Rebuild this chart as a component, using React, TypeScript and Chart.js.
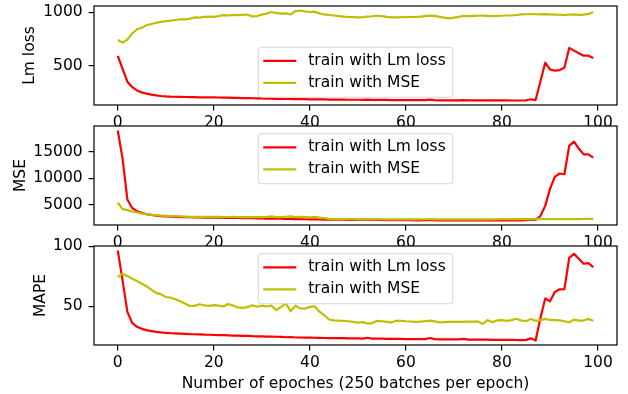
import { useEffect, useRef } from 'react';
import { Chart, registerables } from 'chart.js';

Chart.register(...registerables);

const EPOCHS = Array.from({ length: 100 }, (_, i) => i);
const X_TICKS = [0, 20, 40, 60, 80, 100];
const X_TITLE = 'Number of epoches (250 batches per epoch)';
const LEGEND_LABELS = ['train with Lm loss', 'train with MSE'];
const COLORS = ['#ff0000', '#bfbf00'];

// Panel 1: Lm loss
const LM_TICKS = [500, 1000];
const LM_LOSS_LM = [
  591, 470, 350, 300, 268, 250, 238, 229, 222, 216,
  212, 210, 209, 208, 207, 206, 205, 204, 204, 203,
  203, 202, 201, 200, 199, 198, 197, 196, 195, 194,
  193, 192, 191, 190, 189, 188, 189, 187, 187, 186,
  185, 185, 184, 184, 183, 183, 182, 182, 181, 181,
  181, 180, 183, 180, 179, 179, 179, 178, 178, 178,
  177, 177, 177, 177, 177, 182, 177, 176, 176, 176,
  176, 176, 177, 176, 175, 175, 175, 176, 175, 175,
  175, 175, 174, 174, 174, 176, 186, 178, 352, 528,
  466, 453, 459, 481, 666, 641, 616, 594, 594, 572,
];
const LM_LOSS_MSE = [
  741, 716, 745, 800, 842, 856, 880, 891, 902, 911,
  918, 922, 928, 935, 933, 940, 953, 950, 958, 960,
  958, 964, 973, 970, 976, 974, 977, 978, 962, 965,
  978, 988, 1003, 994, 988, 990, 980, 1012, 1017, 1008,
  1003, 1006, 990, 980, 975, 970, 965, 960, 957, 955,
  953, 955, 960, 963, 968, 965, 958, 953, 952, 955,
  955, 956, 957, 960, 965, 969, 966, 958, 950, 944,
  950, 958, 966, 964, 966, 968, 969, 966, 965, 966,
  968, 970, 972, 975, 980, 982, 984, 982, 980, 983,
  981, 979, 977, 975, 978, 980, 976, 978, 985, 1000,
];

// Panel 2: MSE
const MSE_TICKS = [5000, 10000, 15000];
const MSE_LM = [
  19000, 13700, 6000, 4400, 3800, 3480, 3230, 3100, 2980, 2880,
  2800, 2760, 2730, 2700, 2680, 2660, 2640, 2630, 2610, 2600,
  2590, 2570, 2560, 2550, 2530, 2520, 2500, 2490, 2470, 2450,
  2430, 2420, 2400, 2390, 2380, 2330, 2370, 2310, 2300, 2290,
  2270, 2260, 2240, 2230, 2220, 2210, 2200, 2190, 2180, 2170,
  2160, 2150, 2230, 2150, 2140, 2140, 2130, 2120, 2120, 2110,
  2100, 2100, 2090, 2090, 2100, 2180, 2090, 2080, 2080, 2070,
  2070, 2070, 2100, 2070, 2060, 2060, 2060, 2080, 2060, 2060,
  2060, 2060, 2060, 2050, 2050, 2120, 2200, 2150, 2900, 4800,
  8000, 10250, 10900, 10760, 16100, 16900, 15600, 14500, 14500, 13900,
];
const MSE_MSE = [
  5400, 4200, 4000, 3750, 3550, 3350, 3230, 3100, 3040, 2970,
  2920, 2880, 2850, 2820, 2790, 2750, 2760, 2740, 2720, 2730,
  2720, 2740, 2700, 2710, 2720, 2690, 2710, 2700, 2680, 2700,
  2690, 2710, 2820, 2700, 2690, 2760, 2830, 2700, 2720, 2680,
  2660, 2740, 2620, 2480, 2370, 2330, 2320, 2310, 2300, 2290,
  2280, 2300, 2250, 2270, 2300, 2290, 2280, 2270, 2260, 2290,
  2280, 2270, 2260, 2280, 2290, 2300, 2270, 2260, 2250, 2260,
  2270, 2260, 2280, 2270, 2260, 2270, 2250, 2280, 2270, 2290,
  2300, 2290, 2310, 2320, 2300, 2330, 2310, 2330, 2320, 2310,
  2330, 2320, 2310, 2300, 2320, 2330, 2320, 2330, 2350, 2340,
];

// Panel 3: MAPE
const MAPE_TICKS = [50, 100];
const MAPE_LM = [
  96.4, 71.5, 45.3, 36.2, 32.9, 31.2, 30.1, 29.3, 28.7, 28.2,
  27.9, 27.6, 27.4, 27.2, 27.0, 26.8, 26.7, 26.6, 26.4, 26.3,
  26.1, 26.0, 25.9, 25.8, 25.6, 25.5, 25.4, 25.3, 25.1, 25.0,
  24.9, 24.8, 24.7, 24.6, 24.5, 24.2, 24.4, 24.0, 24.0, 23.9,
  23.9, 23.8, 23.7, 23.6, 23.5, 23.5, 23.4, 23.4, 23.3, 23.2,
  23.2, 23.1, 23.8, 23.1, 23.0, 23.0, 22.9, 22.9, 22.8, 22.8,
  22.7, 22.7, 22.6, 22.6, 22.6, 23.6, 22.6, 22.5, 22.5, 22.4,
  22.4, 22.4, 22.8, 22.3, 22.2, 22.2, 22.2, 22.3, 22.1, 22.1,
  22.1, 22.0, 22.0, 21.9, 21.8, 22.0, 23.3, 21.5, 40.0, 56.4,
  54.1, 61.9, 64.1, 64.3, 90.3, 93.6, 89.5, 85.4, 85.9, 82.6,
];
const MAPE_MSE = [
  74.3, 77.1, 75.2, 72.9, 71.0, 68.8, 66.6, 63.8, 61.1, 59.9,
  57.7, 57.2, 55.8, 54.1, 52.2, 50.3, 50.3, 51.7, 50.8, 50.3,
  51.0, 50.5, 49.8, 51.8, 50.6, 49.0, 48.7, 49.3, 50.8, 49.6,
  50.5, 49.8, 50.5, 46.7, 49.5, 52.2, 45.8, 50.5, 48.2, 48.1,
  49.5, 50.0, 45.5, 42.5, 39.0, 38.2, 38.0, 37.9, 37.5, 37.0,
  36.4, 36.8, 35.6, 36.0, 37.9, 37.5, 37.0, 36.5, 38.0, 37.8,
  37.5, 37.3, 37.0, 37.2, 37.6, 38.1, 37.4, 36.5, 36.8, 37.0,
  37.0, 37.1, 37.0, 37.3, 37.2, 37.4, 35.3, 38.4, 36.8, 38.2,
  38.4, 37.9, 38.5, 39.6, 38.2, 37.5, 39.5, 37.9, 38.4, 39.5,
  38.6, 38.4, 38.2, 37.5, 36.7, 38.9, 38.0, 38.1, 39.5, 37.9,
];

const W = 628;
const H = 394;
const AREA_LEFT = 94;
const AREA_RIGHT = 617;
const FONT_FAMILY = "'DejaVu Sans', sans-serif";
const FONT_SIZE = 15.5;

type Panel = {
  yTitle: string;
  series: number[][];
  yTicks: number[];
  top: number;
  bottom: number;
  xAxisH: number;
  titlePad: number;
  legendLoc: 'lower' | 'upper';
  showXTitle: boolean;
};

const PANELS: Panel[] = [
  { yTitle: 'Lm loss', series: [LM_LOSS_LM, LM_LOSS_MSE], yTicks: LM_TICKS, top: 6, bottom: 105, xAxisH: 30, titlePad: 21, legendLoc: 'lower', showXTitle: false },
  { yTitle: 'MSE', series: [MSE_LM, MSE_MSE], yTicks: MSE_TICKS, top: 126, bottom: 225, xAxisH: 30, titlePad: 11.5, legendLoc: 'upper', showXTitle: false },
  { yTitle: 'MAPE', series: [MAPE_LM, MAPE_MSE], yTicks: MAPE_TICKS, top: 246, bottom: 345, xAxisH: 49, titlePad: 31.5, legendLoc: 'upper', showXTitle: true },
];

function margins(values: number[]) {
  const lo = Math.min(...values);
  const hi = Math.max(...values);
  const pad = (hi - lo) * 0.05;
  return { min: lo - pad, max: hi + pad };
}

function makePlugin(panel: Panel) {
  return {
    id: 'mplFrame',
    beforeDraw(chart: any) {
      const { ctx, chartArea: a } = chart;
      ctx.save();
      ctx.fillStyle = '#ffffff';
      ctx.fillRect(a.left, a.top, a.right - a.left, a.bottom - a.top);
      ctx.restore();
    },
    afterDatasetsDraw(chart: any) {
      const { ctx, chartArea: a } = chart;
      ctx.save();
      ctx.strokeStyle = '#000000';
      ctx.lineWidth = 1.2;
      ctx.strokeRect(a.left, a.top, a.right - a.left, a.bottom - a.top);
      ctx.restore();
    },
    afterDraw(chart: any) {
      const { ctx, chartArea: a } = chart;
      ctx.save();
      ctx.font = `${FONT_SIZE}px ${FONT_FAMILY}`;
      const tw = Math.max(...LEGEND_LABELS.map((l) => ctx.measureText(l).width));
      const w = 5 + 33 + 12 + tw + 7;
      const h = 50;
      const x0 = (a.left + a.right) / 2 - w / 2;
      const y0 = panel.legendLoc === 'lower' ? a.bottom - 7.75 - h : a.top + 7.75;
      const r = 3;
      ctx.beginPath();
      ctx.moveTo(x0 + r, y0);
      ctx.lineTo(x0 + w - r, y0);
      ctx.arcTo(x0 + w, y0, x0 + w, y0 + r, r);
      ctx.lineTo(x0 + w, y0 + h - r);
      ctx.arcTo(x0 + w, y0 + h, x0 + w - r, y0 + h, r);
      ctx.lineTo(x0 + r, y0 + h);
      ctx.arcTo(x0, y0 + h, x0, y0 + h - r, r);
      ctx.lineTo(x0, y0 + r);
      ctx.arcTo(x0, y0, x0 + r, y0, r);
      ctx.closePath();
      ctx.fillStyle = 'rgba(255,255,255,0.8)';
      ctx.fill();
      ctx.strokeStyle = 'rgba(204,204,204,0.8)';
      ctx.lineWidth = 1;
      ctx.stroke();
      LEGEND_LABELS.forEach((label, k) => {
        const yy = y0 + 13.7 + k * 22;
        ctx.beginPath();
        ctx.moveTo(x0 + 5, yy);
        ctx.lineTo(x0 + 38, yy);
        ctx.strokeStyle = COLORS[k];
        ctx.lineWidth = 2.2;
        ctx.stroke();
        ctx.fillStyle = '#000000';
        ctx.textBaseline = 'middle';
        ctx.textAlign = 'left';
        ctx.fillText(label, x0 + 50, yy);
      });
      ctx.restore();
    },
  };
}

function makeConfig(panel: Panel): any {
  const font = { family: FONT_FAMILY, size: FONT_SIZE };
  const xr = margins(EPOCHS);
  const yr = margins(panel.series.flat());
  const tickGrid = {
    display: true,
    drawOnChartArea: false,
    drawTicks: true,
    tickLength: 5.4,
    color: '#000000',
    lineWidth: 1.2,
  };
  return {
    type: 'line',
    data: {
      datasets: panel.series.map((vals, k) => ({
        label: LEGEND_LABELS[k],
        data: vals.map((v, i) => ({ x: EPOCHS[i], y: v })),
        borderColor: COLORS[k],
        backgroundColor: COLORS[k],
        borderWidth: 2.2,
        pointRadius: 0,
        tension: 0,
        borderJoinStyle: 'round',
        fill: false,
        order: k === 0 ? 1 : 0,
      })),
    },
    options: {
      responsive: false,
      animation: false,
      devicePixelRatio: 1,
      events: [],
      layout: {
        autoPadding: false,
        padding: {
          left: 0,
          right: W - AREA_RIGHT,
          top: panel.top,
          bottom: H - panel.bottom - panel.xAxisH,
        },
      },
      plugins: { legend: { display: false }, tooltip: { enabled: false } },
      scales: {
        x: {
          type: 'linear',
          min: xr.min,
          max: xr.max,
          afterBuildTicks: (s: any) => {
            s.ticks = X_TICKS.filter((v) => v >= s.min && v <= s.max).map((v) => ({ value: v }));
          },
          afterFit: (s: any) => {
            s.height = panel.xAxisH;
            s.paddingLeft = 0;
            s.paddingRight = 0;
            s.paddingTop = 0;
            s.paddingBottom = 0;
          },
          ticks: { font, color: '#000000', padding: 3, maxRotation: 0, autoSkip: false, callback: (v: number) => String(v) },
          grid: tickGrid,
          border: { display: false },
          title: { display: panel.showXTitle, text: X_TITLE, font, color: '#000000', padding: { top: 0, bottom: 1 } },
        },
        y: {
          type: 'linear',
          min: yr.min,
          max: yr.max,
          afterBuildTicks: (s: any) => {
            s.ticks = panel.yTicks.filter((v) => v >= s.min && v <= s.max).map((v) => ({ value: v }));
          },
          afterFit: (s: any) => {
            s.width = AREA_LEFT;
            s.paddingLeft = 0;
            s.paddingRight = 0;
            s.paddingTop = 0;
            s.paddingBottom = 0;
          },
          ticks: { font, color: '#000000', padding: 6, callback: (v: number) => String(v) },
          grid: tickGrid,
          border: { display: false },
          title: { display: true, text: panel.yTitle, font, color: '#000000', padding: { top: panel.titlePad, bottom: 0 } },
        },
      },
    },
    plugins: [makePlugin(panel)],
  };
}

export default function App() {
  const r1 = useRef<HTMLCanvasElement>(null);
  const r2 = useRef<HTMLCanvasElement>(null);
  const r3 = useRef<HTMLCanvasElement>(null);

  useEffect(() => {
    const refs = [r1, r2, r3];
    const charts = refs.map((r, i) => new Chart(r.current as HTMLCanvasElement, makeConfig(PANELS[i])));
    return () => charts.forEach((c) => c.destroy());
  }, []);

  const cstyle: any = { position: 'absolute', left: 0, top: 0, width: W, height: H };
  return (
    <div style={{ position: 'fixed', left: 0, top: 0, width: W, height: H, background: '#ffffff', overflow: 'hidden' }}>
      <canvas ref={r1} width={W} height={H} style={cstyle} />
      <canvas ref={r2} width={W} height={H} style={cstyle} />
      <canvas ref={r3} width={W} height={H} style={cstyle} />
    </div>
  );
}
